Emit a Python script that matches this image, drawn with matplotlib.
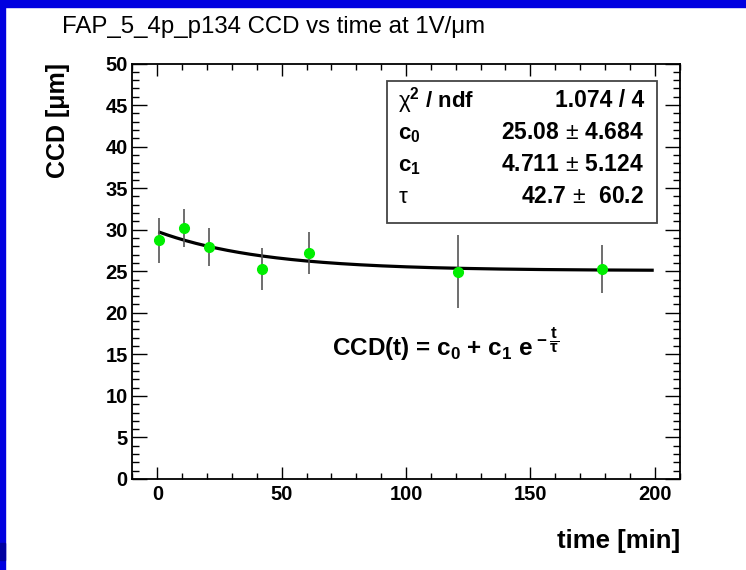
import matplotlib
matplotlib.use("Agg")
import matplotlib.pyplot as plt
from matplotlib.patches import Rectangle
import numpy as np

plt.rcParams['font.family'] = 'Liberation Sans'
plt.rcParams['mathtext.fontset'] = 'custom'
plt.rcParams['mathtext.rm'] = 'Liberation Sans'
plt.rcParams['mathtext.it'] = 'Liberation Sans:italic'
plt.rcParams['mathtext.bf'] = 'Liberation Sans:bold'

# data
t_min = [0.7, 10.8, 20.7, 41.9, 61.0, 120.8, 178.8]
ccd = [28.72, 30.20, 27.92, 25.27, 27.16, 24.95, 25.31]
ccd_err = [2.67, 2.31, 2.23, 2.53, 2.55, 4.37, 2.89]

# fit result shown in the stats box
c0 = 25.08
c1 = 4.711
tau = 42.7
fit_range = (1.0, 199.0)
stat_labels = [r"$\mathrm{\chi}^{\mathbf{2}}$ / ndf", r"$\mathbf{c_0}$", r"$\mathbf{c_1}$", r"$\mathrm{\tau}$"]
stat_values = ["1.074 / 4", r"25.08$\,\pm\,$4.684", r"4.711$\,\pm\,$5.124", r"42.7$\,\pm\,$ 60.2"]

W, H = 746, 570
fig = plt.figure(figsize=(W / 100, H / 100), dpi=100)

# blue frame of the slide
fig.patches.append(Rectangle((0, 1 - 7 / H), 1, 7 / H, transform=fig.transFigure, color='#0000e0', zorder=0))
fig.patches.append(Rectangle((0, 0), 5 / W, 1, transform=fig.transFigure, color='#0000e0', zorder=0))
fig.patches.append(Rectangle((0, 1 - 560 / H), 5 / W, 17 / H, transform=fig.transFigure, color='#0000a0', zorder=0))

ax = fig.add_axes([132 / W, 1 - 479 / H, (680 - 132) / W, (479 - 63.5) / H])

tt = np.linspace(fit_range[0], fit_range[1], 300)
ax.plot(tt, c0 + c1 * np.exp(-tt / tau), color='black', lw=2.3, zorder=2)
ax.errorbar(t_min, ccd, yerr=ccd_err, fmt='none', ecolor='#555555', elinewidth=1.2, capsize=0, zorder=3)
ax.plot(t_min, ccd, 'o', color='#00ee00', markersize=7, zorder=4)

ax.set_xlim(-10.2, 210.2)
ax.set_ylim(0, 50)
ax.set_xticks(np.arange(0, 201, 50))
ax.set_xticks(np.arange(-10, 211, 10), minor=True)
ax.set_yticks(np.arange(0, 51, 5))
ax.set_yticks(np.arange(0, 51, 1), minor=True)
ax.tick_params(which='both', direction='in', top=True, right=True, width=1.0)
ax.tick_params(axis='x', which='major', length=8.6, pad=4)
ax.tick_params(axis='x', which='minor', length=4.3)
ax.tick_params(axis='y', which='major', length=10.5, pad=3)
ax.tick_params(axis='y', which='minor', length=5.2)
for lab in ax.get_xticklabels() + ax.get_yticklabels():
    lab.set_fontsize(14.5)
    lab.set_fontweight('bold')
for s in ax.spines.values():
    s.set_linewidth(1.3)

fig.text(62 / W, 1 - 33.3 / H, "FAP_5_4p_p134 CCD vs time at 1V/μm", fontsize=17.3,
         ha='left', va='baseline')
fig.text(680 / W, 1 - 548 / H, "time [min]", fontsize=18.5, fontweight='bold',
         ha='right', va='baseline')
fig.text(70 / W, 1 - 63 / H, "CCD [μm]", fontsize=18, fontweight='bold',
         rotation=90, ha='right', va='top')

# stats box
x0, x1, ytop, ybot = 387, 657, 81, 223
fig.patches.append(Rectangle((x0 / W, 1 - ybot / H), (x1 - x0) / W, (ybot - ytop) / H,
                             transform=fig.transFigure, facecolor='white',
                             edgecolor='#444444', lw=1.3, zorder=5))
baselines = [107, 139, 171, 203]
for lab, val, yb in zip(stat_labels, stat_values, baselines):
    fig.text(398 / W, 1 - yb / H, lab, fontsize=16, fontweight='bold', ha='left', va='baseline', zorder=6)
    fig.text(644 / W, 1 - yb / H, val, fontsize=16.5, fontweight='bold', ha='right', va='baseline', zorder=6)

fig.text(332 / W, 1 - 356 / H,
         r"CCD(t) = $\mathbf{c_0}$ + $\mathbf{c_1}$ $\mathbf{e}^{\;\mathbf{-\;\dfrac{t}{\tau}}}$",
         fontsize=17.5, fontweight='bold', ha='left', va='baseline')

fig.savefig("out.png", dpi=100)
